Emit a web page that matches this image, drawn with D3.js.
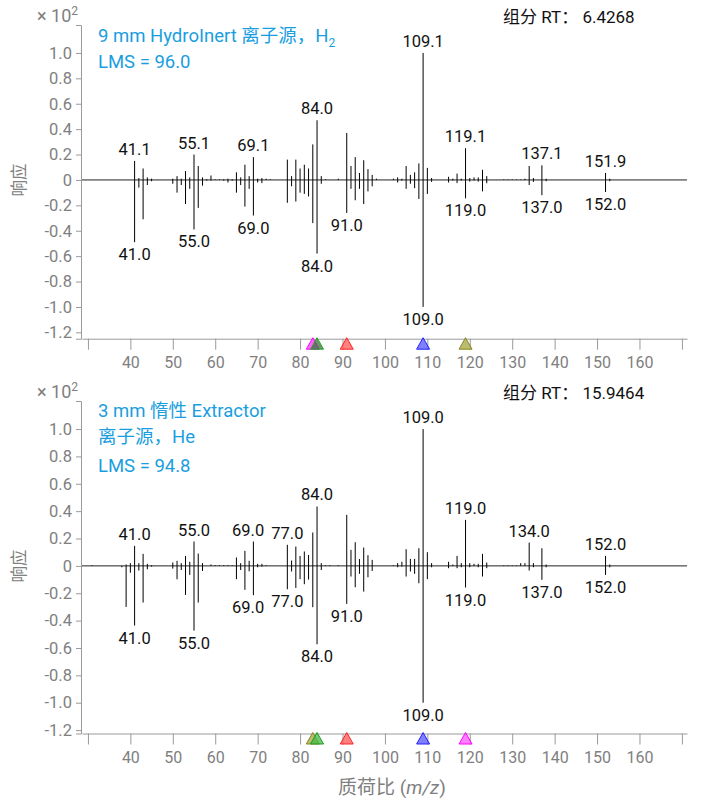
<!DOCTYPE html>
<html><head><meta charset="utf-8">
<script src="https://cdn.jsdelivr.net/npm/d3@7"></script>
<style>
body{margin:0;background:#fff;}
svg text{font-family:Roboto,"Noto Sans CJK SC",sans-serif;}
</style></head><body>
<svg id="chart" width="702" height="800"></svg>
<script>
// ---------------- DATA ----------------
const xTickValues = [30,40,50,60,70,80,90,100,110,120,130,140,150,160,170];
const xTickLabels = [40,50,60,70,80,90,100,110,120,130,140,150,160];
const yTickValues = [-1.2,-1.0,-0.8,-0.6,-0.4,-0.2,0,0.2,0.4,0.6,0.8,1.0];

// Panel 1: 9 mm HydroInert, H2 (response x 10^2)
const topMz   = [41,42,43,44,45,50,51,52,53,54,55,56,57,58,59,60,61,62,63,64,65,66,67,68,69,70,71,72,73,77,78,79,80,81,82,83,84,85,86,89,91,92,93,94,95,96,97,98,102,103,104,105,106,107,108,109,110,111,115,116,117,118,119,120,121,122,123,124,128,129,130,131,132,133,134,135,137,138,152,153];
const topUp   = [0.15,0.015,0.09,0.02,0.01,0.01,0.03,0.01,0.07,0.02,0.20,0.11,0.02,0.005,0.035,0.005,0.005,0.005,0.01,0.005,0.06,0.02,0.12,0.03,0.18,0.01,0.015,0.01,0.005,0.16,0.03,0.16,0.09,0.12,0.09,0.28,0.47,0.03,0.005,0.01,0.37,0.11,0.18,0.055,0.155,0.085,0.04,0.01,0.01,0.02,0.01,0.11,0.04,0.06,0.13,1.0,0.095,0.015,0.025,0.01,0.05,0.01,0.25,0.015,0.02,0.02,0.08,0.03,0.004,0.004,0.004,0.004,0.004,0.01,0.11,0.015,0.115,0.01,0.055,0.01];
const topDown = [-0.49,-0.06,-0.31,-0.04,-0.01,-0.03,-0.10,-0.04,-0.19,-0.07,-0.39,-0.22,-0.045,-0.005,-0.005,0,0,-0.005,-0.02,-0.005,-0.10,-0.04,-0.21,-0.07,-0.28,-0.02,-0.025,0,0,-0.18,-0.05,-0.17,-0.10,-0.11,-0.13,-0.34,-0.58,-0.03,0,0,-0.26,-0.07,-0.16,-0.07,-0.19,-0.09,-0.05,0,0,-0.02,-0.005,-0.07,-0.03,-0.065,-0.15,-1.0,-0.11,-0.015,-0.02,-0.005,-0.025,-0.005,-0.145,-0.013,-0.005,-0.013,-0.09,-0.026,0,0,0,0,0,0,-0.04,-0.015,-0.12,-0.01,-0.095,-0.01];
const topUpLabelMz     = [41,55,69,84,109,119,137,152];
const topUpLabelText   = ["41.1","55.1","69.1","84.0","109.1","119.1","137.1","151.9"];
const topDownLabelMz   = [41,55,69,84,91,109,119,137,152];
const topDownLabelText = ["41.0","55.0","69.0","84.0","91.0","109.0","119.0","137.0","152.0"];
const topMarkerMz = [83,84,91,109,119];

// Panel 2: 3 mm inert Extractor, He
const botMz   = [31,38,39,40,41,42,43,44,45,50,51,52,53,54,55,56,57,59,60,61,62,63,64,65,66,67,68,69,70,71,72,77,78,79,80,81,82,83,84,85,86,87,89,91,92,93,94,95,96,97,102,103,104,105,106,107,108,109,110,111,115,116,117,118,119,120,121,122,123,124,128,129,130,131,132,133,134,135,137,138,152,153];
const botUp   = [0.005,0,0.01,0.02,0.146,0.02,0.088,0.015,0.005,0.025,0.037,0.02,0.073,0.03,0.178,0.09,0.02,0.01,0.005,0.005,0.005,0.005,0.005,0.061,0.02,0.11,0.037,0.178,0.015,0.015,0.005,0.154,0.039,0.141,0.073,0.105,0.08,0.244,0.434,0.02,0.005,0.005,0.005,0.373,0.117,0.173,0.05,0.134,0.078,0.044,0.005,0.02,0.03,0.122,0.051,0.051,0.129,1.0,0.10,0.02,0.03,0.01,0.073,0.02,0.336,0.02,0.015,0.015,0.088,0.024,0.004,0.004,0.004,0.004,0.02,0.02,0.17,0.02,0.129,0.01,0.073,0.01];
const botDown = [0,-0.01,-0.30,-0.05,-0.436,-0.034,-0.268,-0.025,-0.005,-0.02,-0.098,-0.03,-0.212,-0.066,-0.473,-0.268,-0.037,0,0,0,0,0,0,-0.097,-0.03,-0.175,-0.04,-0.214,-0.01,-0.005,0,-0.171,-0.041,-0.161,-0.097,-0.134,-0.10,-0.302,-0.573,-0.03,0,0,0,-0.278,-0.078,-0.156,-0.058,-0.188,-0.083,-0.037,0,-0.01,-0.005,-0.078,-0.041,-0.058,-0.127,-1.0,-0.097,-0.01,-0.017,0,-0.017,-0.01,-0.158,-0.01,0,-0.01,-0.078,-0.017,0,0,0,0,0,0,-0.034,-0.01,-0.102,-0.01,-0.066,-0.01];
const botUpLabelMz     = [41,55,69,77,84,109,119,134,152];
const botUpLabelText   = ["41.0","55.0","69.0","77.0","84.0","109.0","119.0","134.0","152.0"];
const botDownLabelMz   = [41,55,69,77,84,91,109,119,137,152];
const botDownLabelText = ["41.0","55.0","69.0","77.0","84.0","91.0","109.0","119.0","137.0","152.0"];
const botMarkerMz = [83,84,91,109,119];

// ---------------- STYLE / LAYOUT ----------------
const BLUE = "#1a9ee0";
const AXIS = "#9a9a9a";
const TICKTXT = "#808080";
const topMarkerColors = [["#ff33ff","#ff00ff"],["#3f6f3f","#22aa22"],["#ff5555","#ff2222"],["#5555ff","#2222ff"],["#a6a640","#888822"]];
const botMarkerColors = [["#a6a640","#888822"],["#44bb44","#229922"],["#ff5555","#ff2222"],["#5555ff","#2222ff"],["#ff55ff","#ff00ff"]];

const svg = d3.select("#chart");
const x = d3.scaleLinear().domain([28.6, 171.2]).range([82, 687]);

function drawPanel(p) {
  const g = svg.append("g");
  const y = d3.scaleLinear().domain(p.yDomain).range([p.yBottom, p.yTop]);

  // y axis
  const ya = g.append("g").attr("transform","translate(81,0)")
    .call(d3.axisLeft(y).tickValues(yTickValues)
      .tickFormat(v => Math.abs(v) < 1e-9 ? "0" : v.toFixed(1))
      .tickSize(5).tickSizeOuter(5).tickPadding(4));
  ya.selectAll("path,line").attr("stroke", AXIS);
  ya.selectAll("text").attr("fill", TICKTXT).attr("font-size", 16.5)
    .style("font-family","Roboto,sans-serif");

  // x axis
  const xa = g.append("g").attr("transform",`translate(0,${p.yBottom})`)
    .call(d3.axisBottom(x).tickValues(xTickValues)
      .tickFormat(v => xTickLabels.includes(v) ? String(v) : "")
      .tickSize(11).tickSizeOuter(0).tickPadding(7));
  xa.selectAll("path,line").attr("stroke", AXIS);
  xa.selectAll("text").attr("fill", TICKTXT).attr("font-size", 16)
    .style("font-family","Roboto,sans-serif");

  // zero baseline
  g.append("line").attr("x1", x.range()[0]).attr("x2", x.range()[1])
    .attr("y1", y(0)).attr("y2", y(0)).attr("stroke", "#222").attr("stroke-width", 1);

  // sticks
  const rows = p.mz.map((m,i) => ({m, up:p.up[i], down:p.down[i]}));
  g.selectAll("line.up").data(rows.filter(r => r.up > 0)).join("line")
    .attr("x1", d => x(d.m)).attr("x2", d => x(d.m))
    .attr("y1", y(0)).attr("y2", d => y(d.up))
    .attr("stroke","#000").attr("stroke-width",1);
  g.selectAll("line.down").data(rows.filter(r => r.down < 0)).join("line")
    .attr("x1", d => x(d.m)).attr("x2", d => x(d.m))
    .attr("y1", y(0)).attr("y2", d => y(d.down))
    .attr("stroke","#000").attr("stroke-width",1);

  // labels
  const valAt = (arr, m) => arr[p.mz.indexOf(m)];
  const labs = [];
  p.upLabMz.forEach((m,i) => labs.push({m, t:p.upLabText[i], cx:x(m), base: y(valAt(p.up,m)) - 6}));
  p.downLabMz.forEach((m,i) => labs.push({m, t:p.downLabText[i], cx:x(m), base: y(valAt(p.down,m)) + 18}));
  const texts = g.selectAll("text.pk").data(labs).join("text")
    .attr("class","pk").attr("x", d => d.cx).attr("y", d => d.base)
    .attr("text-anchor","middle").attr("font-size",16.5).attr("fill","#111")
    .text(d => d.t);
  texts.each(function(d){ d.w = this.getComputedTextLength(); });
  const sorted = labs.slice().sort((a,b) => b.cx - a.cx);
  for (let i = 0; i < sorted.length; i++) {
    for (let j = 0; j < sorted.length; j++) {
      const a = sorted[i], b = sorted[j];
      if (b.cx >= a.cx || a === b) continue;
      if (Math.abs(a.base - b.base) > 14) continue;
      const need = (a.w + b.w)/2 + 7;
      if (a.cx - b.cx < need) b.cx = a.cx - need;
    }
  }
  texts.attr("x", d => d.cx);

  // markers
  p.markerMz.forEach((m,i) => {
    const cx = x(m), yb = p.yBottom;
    g.append("path")
      .attr("d", `M${cx-6.5},${yb+10.5}L${cx},${yb-1}L${cx+6.5},${yb+10.5}Z`)
      .attr("fill", p.markerColors[i][0]).attr("fill-opacity",0.75)
      .attr("stroke", p.markerColors[i][1]).attr("stroke-width",1);
  });

  // x 10^2
  const e = g.append("text").attr("x",37).attr("y",p.yTop - 3).attr("font-size",18).attr("fill",TICKTXT);
  e.append("tspan").text("× 10");
  e.append("tspan").attr("font-size",12).attr("dy",-7).text("2");

  // RT
  g.append("text").attr("x",503).attr("y",p.yTop - 2).attr("font-size",17).attr("fill","#111")
    .text(p.rt);

  // blue titles
  p.titles.forEach((t,i) => {
    const tx = g.append("text").attr("x",98).attr("y",p.titleY[i]).attr("font-size",18.5).attr("fill",BLUE);
    if (Array.isArray(t)) {
      tx.append("tspan").text(t[0]);
      tx.append("tspan").attr("font-size",12).attr("dy",5).text(t[1]);
    } else tx.text(t);
  });

  // y title
  g.append("text").attr("transform",`translate(25,${y(0)}) rotate(-90)`)
    .attr("text-anchor","middle").attr("font-size",16.5).attr("fill",TICKTXT).text("响应");
}

drawPanel({
  yTop:25, yBottom:338.7, yDomain:[-1.25,1.22],
  mz:topMz, up:topUp, down:topDown,
  upLabMz:topUpLabelMz, upLabText:topUpLabelText,
  downLabMz:topDownLabelMz, downLabText:topDownLabelText,
  markerMz:topMarkerMz, markerColors:topMarkerColors,
  rt:"组分 RT：  6.4268",
  titles:[["9 mm HydroInert 离子源，H","2"],"LMS = 96.0"], titleY:[42,68]
});
drawPanel({
  yTop:401, yBottom:733.5, yDomain:[-1.225,1.205],
  mz:botMz, up:botUp, down:botDown,
  upLabMz:botUpLabelMz, upLabText:botUpLabelText,
  downLabMz:botDownLabelMz, downLabText:botDownLabelText,
  markerMz:botMarkerMz, markerColors:botMarkerColors,
  rt:"组分 RT：  15.9464",
  titles:["3 mm 惰性 Extractor","离子源，He","LMS = 94.8"], titleY:[417,443,472]
});

// x title
const xt = svg.append("text").attr("x",392).attr("y",794).attr("text-anchor","middle")
  .attr("font-size",19).attr("fill",TICKTXT);
xt.append("tspan").text("质荷比 (");
xt.append("tspan").attr("font-style","italic").text("m/z");
xt.append("tspan").text(")");
</script>
</body></html>
